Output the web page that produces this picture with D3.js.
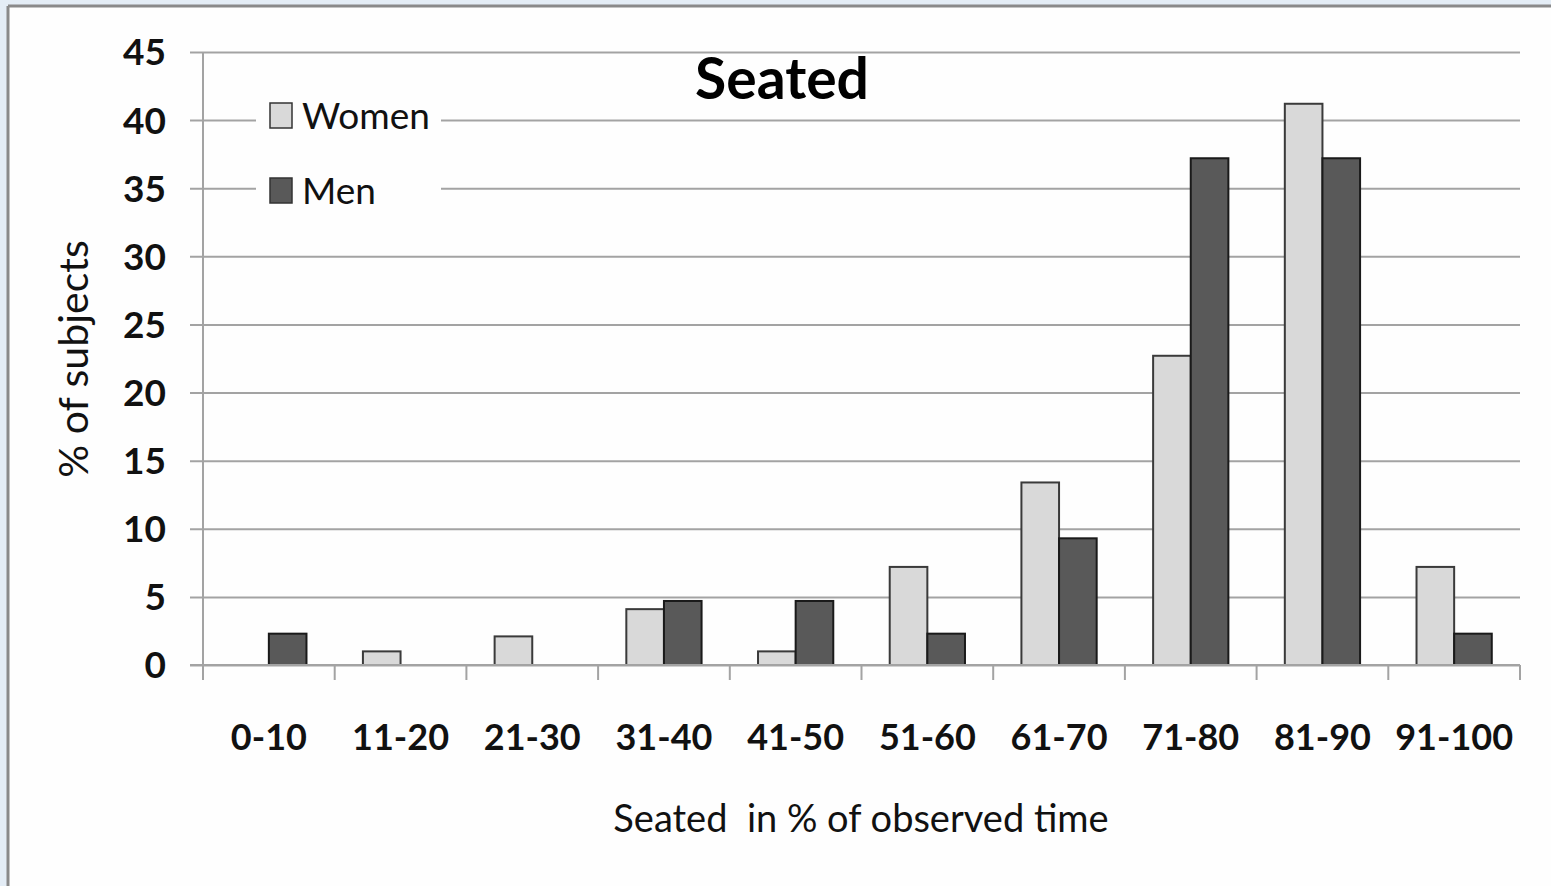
<!DOCTYPE html>
<html>
<head>
<meta charset="utf-8">
<script src="https://cdn.jsdelivr.net/npm/d3@7"></script>
<style>
  html, body { margin: 0; padding: 0; background: #e4edf6; }
  svg { display: block; }
</style>
</head>
<body>
<svg id="chart" width="1551" height="886"></svg>
<script>
const categories = ["0-10","11-20","21-30","31-40","41-50","51-60","61-70","71-80","81-90","91-100"];
const women = [0, 1.0, 2.1, 4.1, 1.0, 7.2, 13.4, 22.7, 41.2, 7.2];
const men   = [2.3, 0, 0, 4.7, 4.7, 2.3, 9.3, 37.2, 37.2, 2.3];
const seriesNames = ["Women", "Men"];
const seriesColors = ["#d9d9d9", "#595959"];
const yTicks = [0, 5, 10, 15, 20, 25, 30, 35, 40, 45];

const svg = d3.select("#chart");
const font = "Lato, 'Open Sans', sans-serif";

// frame
svg.append("rect").attr("x", 9).attr("y", 7).attr("width", 1551).attr("height", 886).attr("fill", "#fefefe");
svg.append("line").attr("x1", 8).attr("x2", 1551).attr("y1", 6).attr("y2", 6).attr("stroke", "#8a8a8a").attr("stroke-width", 3);
svg.append("line").attr("x1", 8).attr("x2", 8).attr("y1", 6).attr("y2", 886).attr("stroke", "#8a8a8a").attr("stroke-width", 3);

const pLeft = 203, pRight = 1520, pTop = 52, pBottom = 665;
const x = d3.scaleBand().domain(categories).range([pLeft, pRight]).paddingInner(0).paddingOuter(0);
const y = d3.scaleLinear().domain([0, 45]).range([pBottom, pTop]);
const inner = d3.scaleBand().domain(seriesNames).range([0, x.bandwidth()]).paddingInner(0).paddingOuter(0.75);

// gridlines with outward ticks
const yAxis = d3.axisLeft(y).tickValues(yTicks).tickSize(-(pRight - pLeft)).tickFormat(d3.format("d")).tickPadding(37);
const gy = svg.append("g").attr("transform", `translate(${pLeft},0)`).call(yAxis);
gy.select(".domain").remove();
gy.selectAll(".tick line").attr("stroke", "#a3a3a3").attr("stroke-width", 2).attr("x1", -13);
gy.selectAll(".tick text").attr("font-family", font).attr("font-weight", "bold").attr("font-size", 37).attr("fill", "#111").attr("dy", "0.35em");

// x axis
const xAxis = d3.axisBottom(x).tickSize(0).tickPadding(85);
const gx = svg.append("g").attr("transform", `translate(0,${pBottom})`).call(xAxis);
gx.select(".domain").remove();
gx.selectAll(".tick text").attr("font-family", font).attr("font-weight", "bold").attr("font-size", 36).attr("fill", "#111").attr("dy", "0");
// category separator ticks
const bounds = categories.map(c => x(c)).concat([pRight]);
svg.append("g").selectAll("line").data(bounds).join("line")
  .attr("x1", d => d).attr("x2", d => d).attr("y1", pBottom).attr("y2", pBottom + 15)
  .attr("stroke", "#a3a3a3").attr("stroke-width", 2);
// vertical axis line
svg.append("line").attr("x1", pLeft).attr("x2", pLeft).attr("y1", pTop).attr("y2", pBottom + 15)
  .attr("stroke", "#a3a3a3").attr("stroke-width", 2);

// bars
const data = [women, men];
const groups = svg.append("g");
data.forEach((vals, si) => {
  groups.append("g").selectAll("rect").data(vals.map((v, i) => ({ v, c: categories[i] })).filter(d => d.v > 0))
    .join("rect")
    .attr("x", d => x(d.c) + inner(seriesNames[si]))
    .attr("y", d => y(d.v))
    .attr("width", inner.bandwidth())
    .attr("height", d => pBottom - y(d.v))
    .attr("fill", seriesColors[si])
    .attr("stroke", si === 0 ? "#3a3a3a" : "#1a1a1a")
    .attr("stroke-width", 2);
});
// redraw zero line over bar bottoms
svg.append("line").attr("x1", pLeft - 13).attr("x2", pRight).attr("y1", pBottom).attr("y2", pBottom)
  .attr("stroke", "#a3a3a3").attr("stroke-width", 2);

// legend
const lg = svg.append("g");
lg.append("rect").attr("x", 256).attr("y", 92).attr("width", 185).attr("height", 124).attr("fill", "#fefefe");
seriesNames.forEach((name, i) => {
  const yy = 103 + i * 75;
  lg.append("rect").attr("x", 270).attr("y", yy).attr("width", 22).attr("height", 25)
    .attr("fill", seriesColors[i]).attr("stroke", "#333").attr("stroke-width", 1.5);
  lg.append("text").attr("x", 302).attr("y", yy + 26).text(name)
    .attr("font-family", font).attr("font-size", 37).attr("fill", "#111");
});

// title
svg.append("text").attr("x", 782).attr("y", 99).attr("text-anchor", "middle").text("Seated")
  .attr("font-family", font).attr("font-weight", "bold").attr("font-size", 57).attr("fill", "#000");

// axis titles
svg.append("text").attr("x", 861).attr("y", 832).attr("text-anchor", "middle").text("Seated  in % of observed time")
  .attr("font-family", font).attr("font-size", 38).attr("fill", "#111").style("white-space", "pre");
svg.append("text").attr("transform", "translate(88,359) rotate(-90)").attr("text-anchor", "middle").text("% of subjects")
  .attr("font-family", font).attr("font-size", 41).attr("fill", "#111");
</script>
</body>
</html>
